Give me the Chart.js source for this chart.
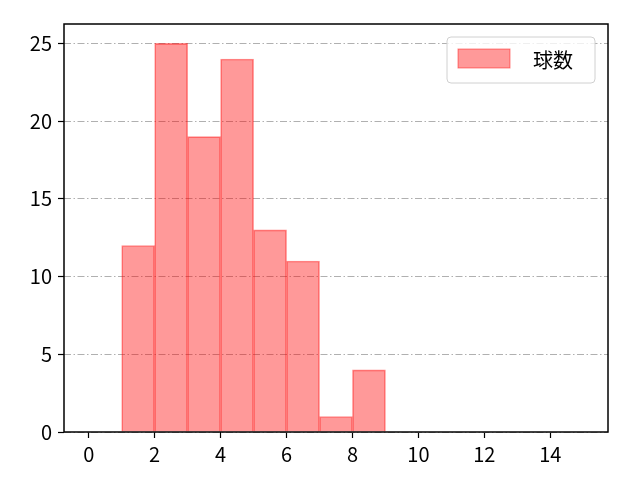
<!DOCTYPE html>
<html>
<head>
<meta charset="utf-8">
<script src="https://cdn.jsdelivr.net/npm/chart.js@4/dist/chart.umd.min.js"></script>
<style>
	html, body { margin: 0; padding: 0; background: #fff; }
	#wrap { width: 640px; height: 480px; }
</style>
</head>
<body>
<div id="wrap"><canvas id="histChart"></canvas></div>
<script>
// histogram bins (left edges) and counts
const binStarts = [1, 2, 3, 4, 5, 6, 7, 8];
const counts = [12, 25, 19, 24, 13, 11, 1, 4];
const seriesLabel = '球数';
const xTicks = [0, 2, 4, 6, 8, 10, 12, 14];
const yTicks = [0, 5, 10, 15, 20, 25];

const fontFamily = '"Noto Sans CJK JP", "Noto Sans", sans-serif';

// frame around plot area + legend box in the upper right
const framePlugin = {
	id: 'frame',
	afterDraw(chart) {
		const ctx = chart.ctx;
		const a = chart.chartArea;
		ctx.save();
		ctx.strokeStyle = '#000';
		ctx.lineWidth = 1.5;
		ctx.strokeRect(a.left, a.top, a.right - a.left, a.bottom - a.top);

		const ds = chart.data.datasets[0];
		const boxW = 148, boxH = 46;
		const bx = a.right - 13 - boxW, by = a.top + 13;
		ctx.fillStyle = 'rgba(255,255,255,0.8)';
		ctx.strokeStyle = '#d0d0d0';
		ctx.lineWidth = 1;
		ctx.beginPath();
		ctx.roundRect(bx, by, boxW, boxH, 4);
		ctx.fill();
		ctx.stroke();
		ctx.fillStyle = ds.backgroundColor;
		ctx.strokeStyle = ds.borderColor;
		ctx.fillRect(bx + 11, by + 12, 52, 19);
		ctx.strokeRect(bx + 11, by + 12, 52, 19);
		ctx.fillStyle = '#000';
		ctx.font = '20px ' + fontFamily;
		ctx.textBaseline = 'middle';
		ctx.fillText(ds.label, bx + 86, by + 23);
		ctx.restore();
	}
};

const dataCanvas = document.getElementById('histChart');
const histChart = new Chart(dataCanvas, {
	type: 'bar',
	data: {
		datasets: [{
			label: seriesLabel,
			data: binStarts.map((s, i) => ({ x: s + 0.5, y: counts[i] })),
			backgroundColor: 'rgba(255, 0, 0, 0.4)',
			borderColor: 'rgba(255, 0, 0, 0.45)',
			borderWidth: 1,
			barPercentage: 1,
			categoryPercentage: 1
		}]
	},
	options: {
		responsive: true,
		maintainAspectRatio: false,
		animation: false,
		layout: { padding: { left: 0, top: 24, right: 32, bottom: 0 } },
		plugins: {
			legend: { display: false },
			tooltip: { enabled: false }
		},
		scales: {
			x: {
				type: 'linear',
				offset: false,
				min: -0.75,
				max: 15.75,
				afterBuildTicks: (scale) => { scale.ticks = xTicks.map(v => ({ value: v })); },
				afterFit: (scale) => { scale.height = 48; },
				grid: {
					offset: false,
					drawOnChartArea: false,
					drawTicks: true,
					tickLength: 6,
					tickColor: '#000',
					tickWidth: 1.2
				},
				border: { display: false },
				ticks: {
					color: '#000',
					padding: 4,
					maxRotation: 0,
					font: { family: fontFamily, size: 20 }
				}
			},
			y: {
				type: 'linear',
				min: 0,
				max: 26.25,
				afterBuildTicks: (scale) => { scale.ticks = yTicks.map(v => ({ value: v })); },
				afterFit: (scale) => { scale.width = 64; },
				grid: {
					color: '#b0b0b0',
					lineWidth: 1,
					drawTicks: true,
					tickLength: 6,
					tickColor: '#000',
					tickWidth: 1.2,
					tickBorderDash: []
				},
				border: { display: false, dash: [7, 2.5, 1.5, 2.5] },
				ticks: {
					color: '#000',
					padding: 6,
					font: { family: fontFamily, size: 20 }
				}
			}
		}
	},
	plugins: [framePlugin]
});
</script>
</body>
</html>
